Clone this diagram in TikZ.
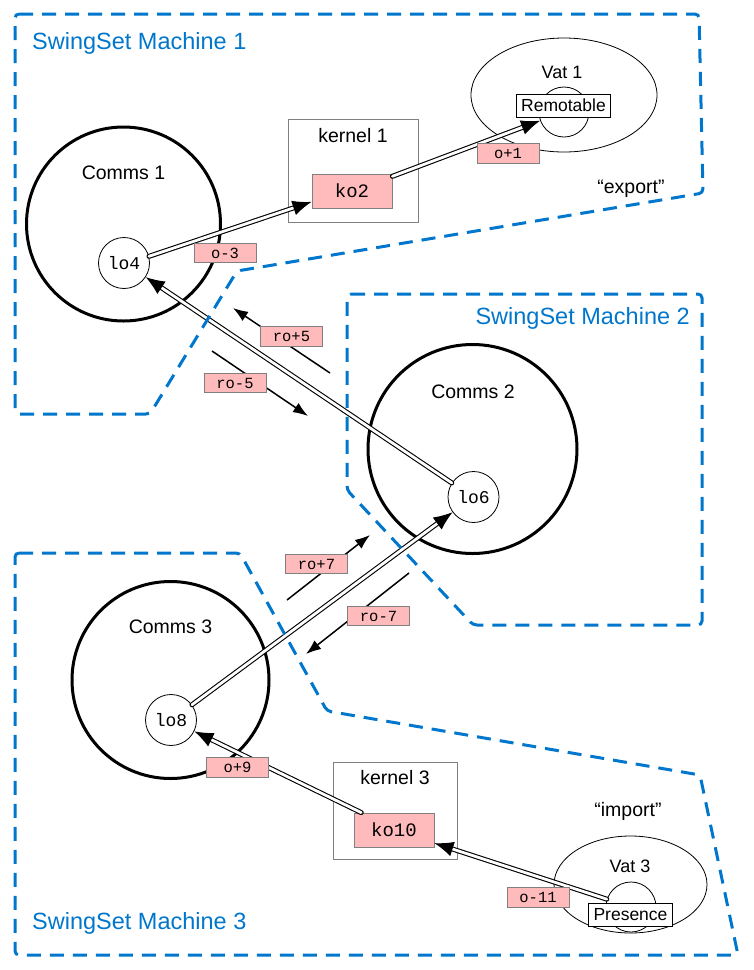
\documentclass[tikz,border=0pt]{standalone}
\usepackage{fontspec}
\setmainfont{Liberation Sans}
\setmonofont{Liberation Mono}
\usetikzlibrary{positioning, arrows.meta, shapes.geometric}
\definecolor{ssblue}{RGB}{0,119,204}
\definecolor{refpink}{RGB}{255,187,187}
\tikzset{
machine/.style={
  draw=ssblue,
  line width=3pt,
  dash pattern=on 14pt off 9pt,
  rounded corners=4pt
  },
machinename/.style={text=ssblue, inner sep=0pt, font=\fontsize{23.5}{26}\selectfont},
heading/.style={inner sep=0pt, font=\fontsize{19.5}{22}\selectfont},
comms/.style={draw, circle, line width=3pt, inner sep=0pt},
lonode/.style={
  draw, circle, fill=white,
  line width=0.8pt,
  minimum size=51pt, inner sep=0pt,
  font=\ttfamily\fontsize{18}{20}\selectfont
  },
kernel/.style={draw=gray, line width=0.8pt},
konode/.style={
  draw=gray, fill=refpink,
  line width=0.8pt,
  minimum width=80pt, minimum height=34pt,
  font=\ttfamily\fontsize{19}{21}\selectfont
  },
vat/.style={draw, ellipse, line width=0.8pt, inner sep=0pt},
objcircle/.style={draw, circle, fill=white, line width=0.8pt, minimum size=50pt, inner sep=0pt},
objtag/.style={
  draw, fill=white, line width=1pt,
  inner xsep=5pt, minimum height=23pt,
  font=\fontsize{17.5}{20}\selectfont
  },
reflabel/.style={
  draw=gray, fill=refpink,
  line width=0.8pt,
  minimum width=62pt, minimum height=19.5pt, inner sep=0pt,
  font=\ttfamily\fontsize{15.5}{17}\selectfont
  },
reflink/.style={
  double=white, double distance=2.8pt,
  line width=1.1pt, line cap=round,
  -{Latex[length=19pt,width=15pt]}
  },
msg/.style={line width=1.5pt, -{Latex[length=15pt,width=11pt]}}
}

\begin{document}
\begin{tikzpicture}[x=1pt, y=-1pt]
\useasboundingbox (0,0) rectangle (753,970);

% comms
\node[comms, minimum size=194pt] (comms1) at (123.5,224) {};
\node[comms, minimum size=209pt] (comms2) at (472.5,449) {};
\node[comms, minimum size=197pt] (comms3) at (170.5,680) {};
\node[heading] (comms1name) at (123.5,173) {Comms 1};
\node[heading] (comms2name) at (473,392) {Comms 2};
\node[heading] (comms3name) at (170.5,627) {Comms 3};
\node[lonode] (lo4) at (124,263) {lo4};
\node[lonode] (lo6) at (473.5,497) {lo6};
\node[lonode] (lo8) at (171,720) {lo8};

% kernels
\node[kernel, minimum width=130pt, minimum height=103pt] (kernel1) at (353,170.5) {};
\node[heading, below=10pt of kernel1.north] (kernel1name) {kernel 1};
\node[konode] (ko2) at (352,191) {ko2};
\node[kernel, minimum width=124pt, minimum height=97pt] (kernel3) at (395,810.5) {};
\node[heading, below=9pt of kernel3.north] (kernel3name) {kernel 3};
\node[konode] (ko10) at (394,830) {ko10};

% vats
\node[vat, minimum width=186pt, minimum height=114pt] (vat1) at (564,95) {};
\node[heading, font=\fontsize{18}{20}\selectfont] (vat1name) at (562,72) {Vat 1};
\node[objcircle] (obj1) at (564,112) {};
\node[objtag] (remotable) at (563.5,105.5) {Remotable};
\node[vat, minimum width=153pt, minimum height=97pt] (vat3) at (630.5,884.5) {};
\node[heading, font=\fontsize{18}{20}\selectfont] (vat3name) at (630,866) {Vat 3};
\node[objcircle] (obj3) at (631,907) {};
\node[objtag] (presence) at (630.5,915) {Presence};

% c-list links
\draw[reflink] (ko2.20) -- (obj1.200);
\draw[reflink] (lo4.15) -- (ko2.195);
\draw[reflink] (lo6.147) -- (lo4.-33);
\draw[reflink] (lo8.36) -- (lo6.216);
\draw[reflink] (ko10.152) -- (lo8.-26);
\draw[reflink] (obj3.162) -- (ko10.-18);

% messages between machines
\coordinate (ro5from) at (330,373);
\coordinate (ro5to) at (233,308);
\coordinate (rm5from) at (212,351);
\coordinate (rm5to) at (308,416);
\coordinate (ro7from) at (287,600);
\coordinate (ro7to) at (370,535);
\coordinate (rm7from) at (409,573);
\coordinate (rm7to) at (306,654);
\draw[msg] (ro5from) -- (ro5to);
\draw[msg] (rm5from) -- (rm5to);
\draw[msg] (ro7from) -- (ro7to);
\draw[msg] (rm7from) -- (rm7to);

% machine boundaries
\draw[machine] (15,14) -- (699,14) -- (703,193) -- (237,271) -- (150,414) -- (15,414) -- cycle;
\draw[machine] (347,294) -- (702,294) -- (702,625) -- (473,625) -- (347,490) -- cycle;
\draw[machine] (15,553) -- (240,553) -- (327,711) -- (700,775) -- (738,955) -- (15,955) -- cycle;
\node[machinename, anchor=base west] (machine1name) at (32,49) {SwingSet Machine 1};
\node[machinename, anchor=base east] (machine2name) at (690,324) {SwingSet Machine 2};
\node[machinename, anchor=base west] (machine3name) at (32,929) {SwingSet Machine 3};
\node[heading, anchor=base] (exportname) at (631,193) {“export”};
\node[heading, anchor=base] (importname) at (628,816) {“import”};

% refs
\node[reflabel] (o3) at (225,253) {o-3};
\node[reflabel] (o1) at (508,153.5) {o+1};
\node[reflabel] (ro5) at (291.5,336.5) {ro+5};
\node[reflabel] (rm5) at (235,383) {ro-5};
\node[reflabel] (ro7) at (316.5,564) {ro+7};
\node[reflabel] (rm7) at (378.5,616) {ro-7};
\node[reflabel] (o9) at (237.5,767.5) {o+9};
\node[reflabel] (o11) at (538,897.5) {o-11};
\end{tikzpicture}
\end{document}
